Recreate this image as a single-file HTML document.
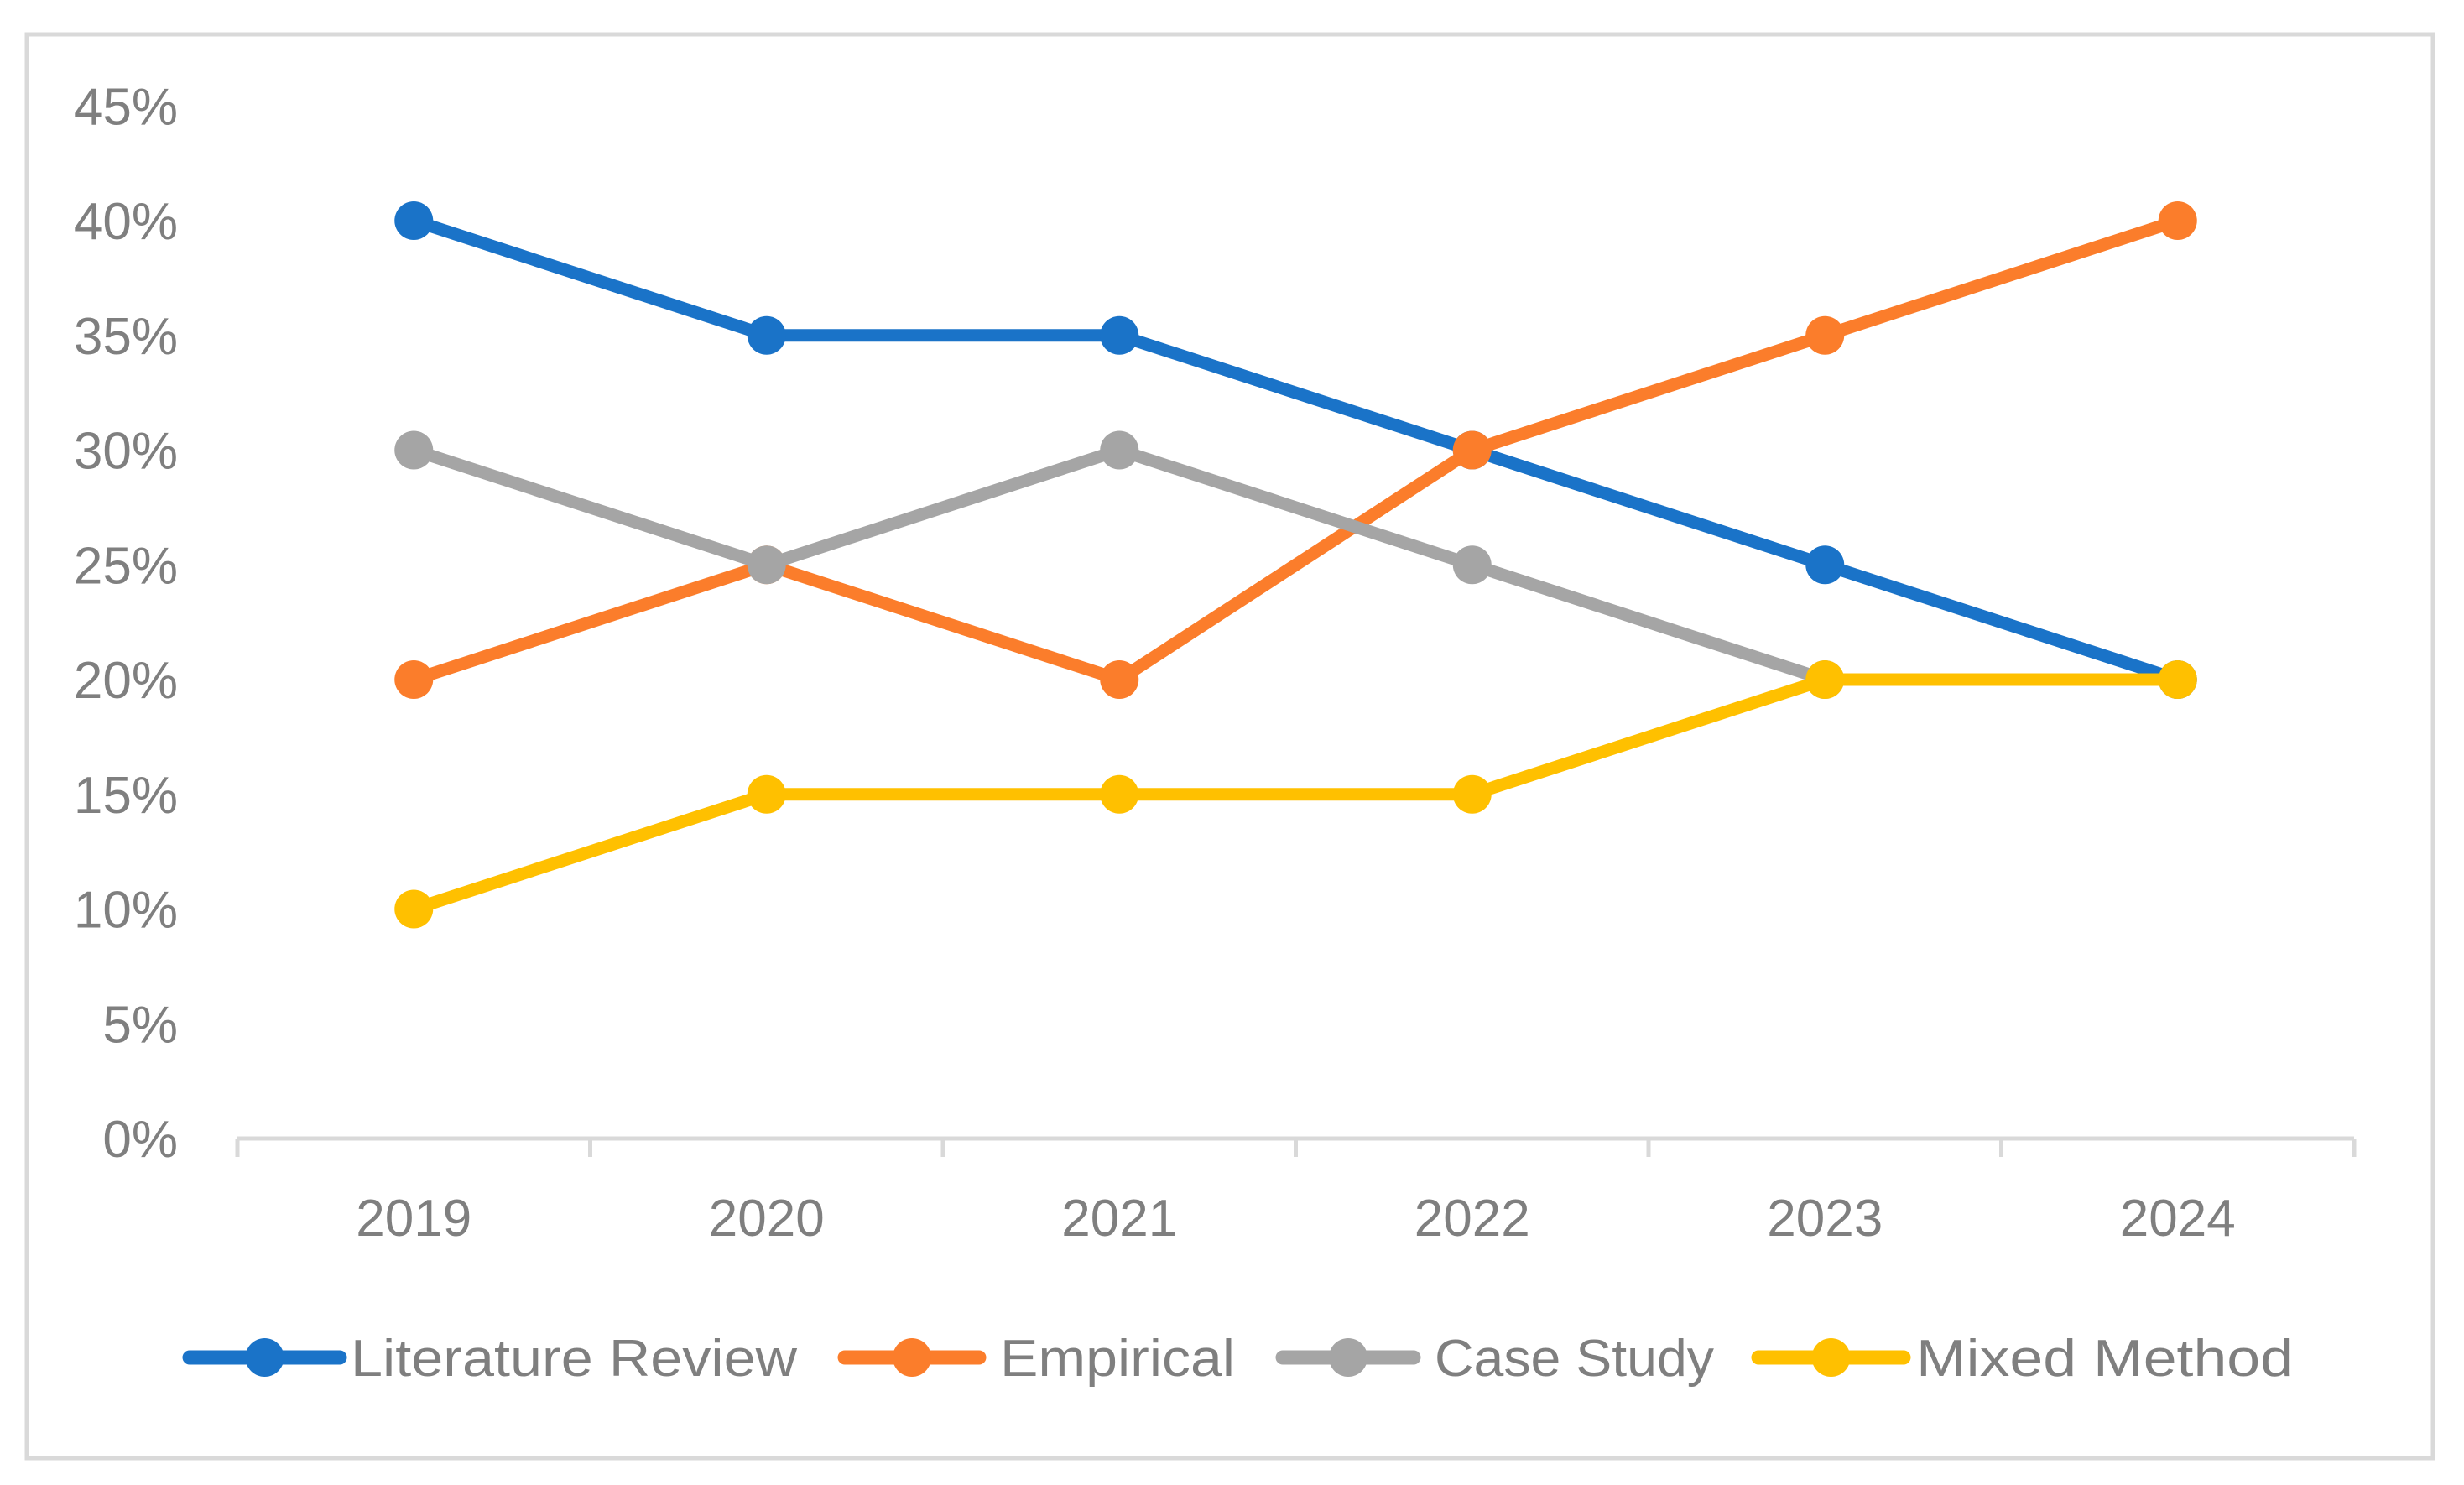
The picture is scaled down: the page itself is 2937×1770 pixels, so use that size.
<!DOCTYPE html>
<html><head><meta charset="utf-8"><style>
html,body{margin:0;padding:0;background:#fff}
svg{display:block}
text{font-family:"Liberation Sans",sans-serif;fill:#7f7f7f}
</style></head><body>
<svg id="chart" width="2937" height="1770" viewBox="0 0 2937 1770" xmlns="http://www.w3.org/2000/svg">
<rect x="32" y="41" width="2868" height="1697" fill="#fff" stroke="#d9d9d9" stroke-width="5"/>
<g id="axes"></g><g id="series"></g><g id="legend"></g>
</svg>
<script>
const categories = ["2019","2020","2021","2022","2023","2024"];
const yTicks = [0,5,10,15,20,25,30,35,40,45];
const seriesNames = ["Literature Review","Empirical","Case Study","Mixed Method"];
const literatureReview = [40,35,35,30,25,20];
const empirical = [20,25,20,30,35,40];
const caseStudy = [30,25,30,25,20,20];
const mixedMethod = [10,15,15,15,20,20];

const NS="http://www.w3.org/2000/svg";
const colors=["#1a73c8","#fb7d2b","#a5a5a5","#ffc000"];
const allSeries=[literatureReview,empirical,caseStudy,mixedMethod];
const x0=283,x1=2806,yZero=1357,perUnit=27.35;
const step=(x1-x0)/categories.length;
function xs(i){return x0+step*(i+0.5);}
function ys(v){return yZero-v*perUnit;}
function mk(tag,attrs,parent){const e=document.createElementNS(NS,tag);for(const k in attrs)e.setAttribute(k,attrs[k]);parent.appendChild(e);return e;}
const axes=document.getElementById('axes');
yTicks.forEach(t=>{
  const e=mk('text',{x:212,y:ys(t)+22,'font-size':62,'text-anchor':'end'},axes);
  
  
  e.textContent=t+'%';
});
const ax=mk('line',{x1:x0,x2:x1,y1:yZero,y2:yZero,stroke:'#d9d9d9','stroke-width':5},axes);


for(let i=0;i<=categories.length;i++){
  const tk=mk('line',{x1:x0+step*i,x2:x0+step*i,y1:yZero,y2:yZero+22,stroke:'#d9d9d9','stroke-width':5},axes);
  
  
}
categories.forEach((c,i)=>{
  const e=mk('text',{x:xs(i),y:1473,'font-size':62,'text-anchor':'middle'},axes);
  
  
  e.textContent=c;
});
const sg=document.getElementById('series');
allSeries.forEach((vals,s)=>{
  const g=mk('g',{},sg);
  
  
  const pl=mk('polyline',{points:vals.map((v,i)=>xs(i)+','+ys(v)).join(' '),fill:'none',stroke:colors[s],'stroke-width':15,'stroke-linejoin':'round'},g);
  
  
  vals.forEach((v,i)=>{
    const c=mk('circle',{cx:xs(i),cy:ys(v),r:23,fill:colors[s]},g);
    
    
  });
});
const lg=document.getElementById('legend');
const legLine=[[226,405],[1007,1167],[1529,1685],[2096,2269]];
const legText=[[418,532],[1192,280],[1710,333],[2284,450]];
seriesNames.forEach((n,s)=>{
  const g=mk('g',{},lg);
  
  
  mk('line',{x1:legLine[s][0],x2:legLine[s][1],y1:1618,y2:1618,stroke:colors[s],'stroke-width':17,'stroke-linecap':'round'},g);
  mk('circle',{cx:(legLine[s][0]+legLine[s][1])/2,cy:1618,r:23,fill:colors[s]},g);
  const t=mk('text',{x:legText[s][0],y:1640,'font-size':62,textLength:legText[s][1],lengthAdjust:'spacingAndGlyphs'},g);
  t.textContent=n;
});
</script>
</body></html>
